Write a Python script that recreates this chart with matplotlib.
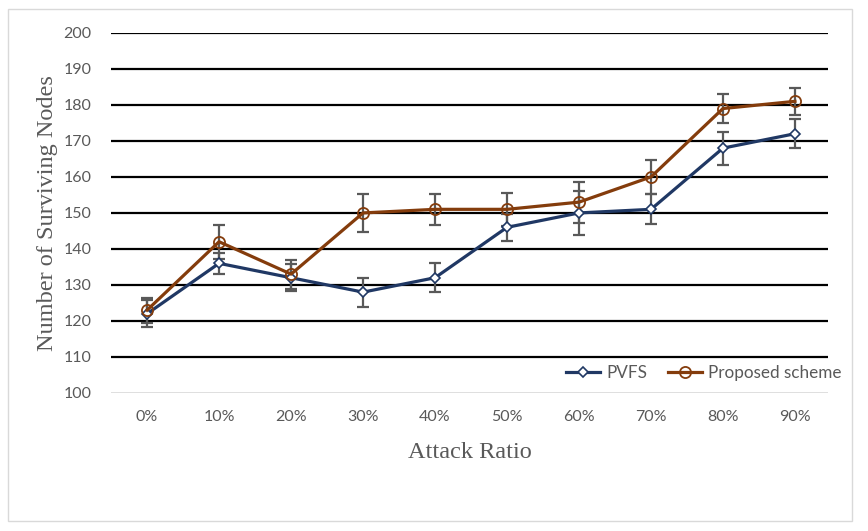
import matplotlib
matplotlib.use('Agg')
import matplotlib.pyplot as plt
from matplotlib.patches import Rectangle

# data
ratios = ['0%', '10%', '20%', '30%', '40%', '50%', '60%', '70%', '80%', '90%']
pvfs = [122, 136, 132, 128, 132, 146, 150, 151, 168, 172]
pvfs_err = [3.7, 3.0, 3.7, 4.0, 4.0, 3.7, 6.0, 4.2, 4.6, 4.0]
proposed = [123, 142, 133, 150, 151, 151, 153, 160, 179, 181]
proposed_err = [3.5, 4.7, 4.0, 5.3, 4.3, 4.5, 5.7, 4.7, 4.0, 3.7]
yticks = [100, 110, 120, 130, 140, 150, 160, 170, 180, 190, 200]

blue = '#203864'
brown = '#843c0c'
grey = '#595959'

fig = plt.figure(figsize=(8.68, 5.31), dpi=100)
fig.patches.append(Rectangle((8 / 868, 10 / 531), 844 / 868, 512 / 531,
                             transform=fig.transFigure, fill=False,
                             edgecolor='#d9d9d9', linewidth=1))

ax = fig.add_axes([0.128, 0.260, 0.826, 0.678])
x = list(range(len(ratios)))

# gridlines
for v in yticks[1:]:
  ax.axhline(v, color='black', linewidth=1.6, zorder=1)
ax.axhline(100, color='#d9d9d9', linewidth=1.2, zorder=1)

ax.errorbar(x, pvfs, yerr=pvfs_err, fmt='none', ecolor=grey,
            elinewidth=1.6, capsize=4, capthick=1.6, zorder=2)
ax.errorbar(x, proposed, yerr=proposed_err, fmt='none', ecolor=grey,
            elinewidth=1.6, capsize=4, capthick=1.6, zorder=2)

ax.plot(x, pvfs, color=blue, linewidth=2.3, marker='D', markersize=5,
        markerfacecolor='white', markeredgecolor=blue, markeredgewidth=1.2,
        label='PVFS', zorder=3)
ax.plot(x, proposed, color=brown, linewidth=2.3, marker='o', markersize=8,
        markerfacecolor='none', markeredgecolor=brown, markeredgewidth=1.3,
        label='Proposed scheme', zorder=3)

ax.set_xlim(-0.5, 9.46)
ax.set_ylim(100, 200)
ax.set_yticks(yticks)
ax.set_xticks(x)
ax.set_xticklabels(ratios)
for s in ax.spines.values():
  s.set_visible(False)
ax.tick_params(length=0, labelsize=11.5, labelcolor=grey)
for lab in ax.get_xticklabels() + ax.get_yticklabels():
  lab.set_family('Lato')
ax.tick_params(axis='y', pad=14)
ax.tick_params(axis='x', pad=12)

ax.set_xlabel('Attack Ratio', family='Liberation Serif', fontsize=17.5,
              color=grey, labelpad=13)
ax.set_ylabel('Number of Surviving Nodes', family='Liberation Serif',
              fontsize=17.5, color=grey, labelpad=4)

leg = ax.legend(loc='lower right', bbox_to_anchor=(1.04, -0.01), ncol=2,
                frameon=False, prop={'family': 'Lato', 'size': 12.3},
                handlelength=2.0, columnspacing=1.2, handletextpad=0.35)
for t in leg.get_texts():
  t.set_color(grey)

fig.savefig('out.png', dpi=100)
